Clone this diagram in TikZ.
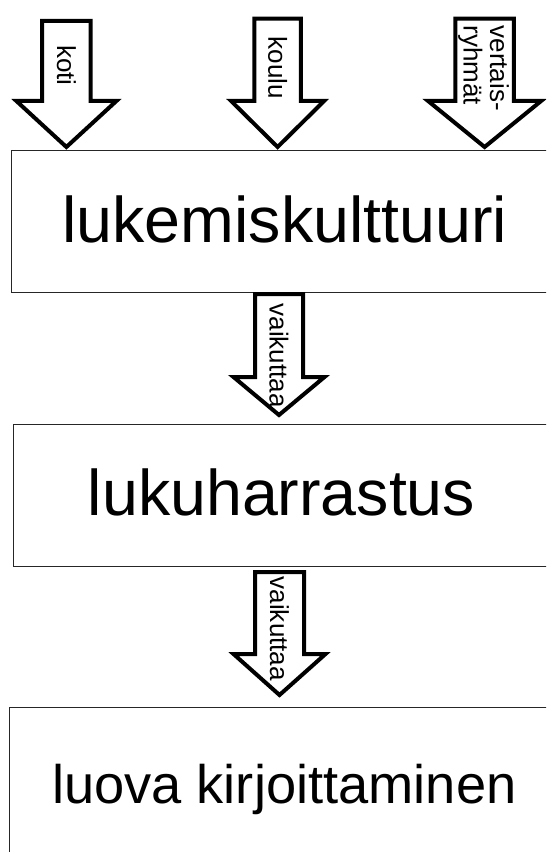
\documentclass[tikz,border=0pt]{standalone}
\usepackage{fontspec}
\setmainfont{Liberation Sans}
\usetikzlibrary{calc}

\tikzset{
  stage/.style={draw=black!85, line width=1pt, rectangle, inner sep=0pt,
                anchor=north west, minimum width=420pt},
  stagetext/.style={inner sep=0pt, anchor=base, font=\fontsize{48.4}{50}\selectfont},
  blockarr/.style={draw=black, line width=3pt, fill=white, line join=miter},
  arrowtext/.style={inner sep=0pt, rotate=-90, anchor=west, align=left,
                    font=\fontsize{19.5}{20}\selectfont},
}

% hollow block arrow: #1 top centre, #2 tip, #3 half shaft width,
% #4 half head width, #5 head length
\newcommand{\blockarrow}[5]{%
  \draw[blockarr] ($(#1)+(-#3,0)$) -- ($(#1)+(#3,0)$) -- ($(#2)+(#3,-#5)$)
    -- ($(#2)+(#4,-#5)$) -- (#2) -- ($(#2)+(-#4,-#5)$) -- ($(#2)+(-#3,-#5)$)
    -- cycle;}

\begin{document}
\begin{tikzpicture}[x=0.75pt, y=-0.75pt]
  \useasboundingbox (0,0) rectangle (546,852);
  \fill[white] (0,0) rectangle (546,852);
  \clip (0,0) rectangle (546,852);

  % the three stages
  \node[stage, minimum height=106.5pt] (culture) at (10.5,150) {};
  \node[stagetext] (culturetext) at (284.7,243) {lukemiskulttuuri};

  \node[stage, minimum height=106.5pt] (hobby) at (12.5,424) {};
  \node[stagetext] (hobbytext) at (281.5,515) {lukuharrastus};

  \node[stage, minimum height=120pt] (writing) at (9,707) {};
  \node[stagetext, font=\fontsize{40.7}{42}\selectfont] (writingtext)
    at (284.3,803.3) {luova kirjoittaminen};

  % influences on the reading culture
  \coordinate (homeS) at (66.4,21);      \coordinate (homeT) at (66.4,147);
  \coordinate (schoolS) at (277.6,18.7); \coordinate (schoolT) at (277.6,147);
  \coordinate (peerS) at (484.6,18.7);   \coordinate (peerT) at (484.6,147);
  \blockarrow{homeS}{homeT}{24.3}{50}{46}
  \blockarrow{schoolS}{schoolT}{23.2}{46.5}{46}
  \blockarrow{peerS}{peerT}{29.3}{56.5}{46}
  \node[arrowtext] (hometext) at (66.4,45) {koti};
  \node[arrowtext] (schooltext) at (277.6,36.6) {koulu};
  \node[arrowtext] (peertext) at (483.6,25.3) {vertais-\\ryhmät};

  % culture -> hobby -> writing
  \coordinate (c2hS) at (279,294);   \coordinate (c2hT) at (279,415);
  \coordinate (h2wS) at (279.5,572); \coordinate (h2wT) at (279.5,695);
  \blockarrow{c2hS}{c2hT}{24}{45.5}{38}
  \blockarrow{h2wS}{h2wT}{24.5}{46}{41}
  \node[arrowtext] (c2htext) at (279,303.5) {vaikuttaa};
  \node[arrowtext] (h2wtext) at (279.5,576.5) {vaikuttaa};
\end{tikzpicture}
\end{document}
